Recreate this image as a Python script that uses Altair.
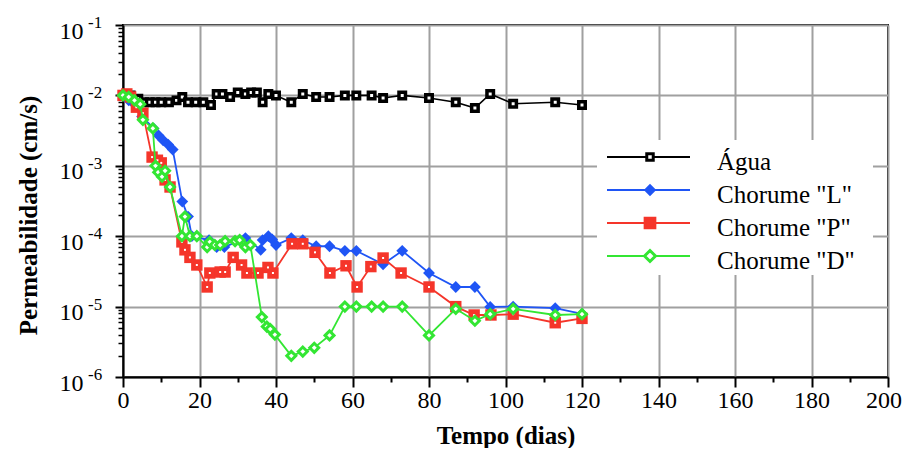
import altair as alt
import pandas as pd

FONT = "Liberation Serif"

# ---------------- data ----------------
agua_days = [0, 2, 4, 5.5, 7, 8.5, 10, 12, 14, 15.5,
             17, 19, 21, 23, 24.5, 26, 28, 30, 32, 33.5,
             35, 36.5, 38, 40, 44, 47, 50.5, 54, 58, 61,
             65, 68, 73, 80, 87, 92, 96, 102, 113, 120]
agua_vals = [1.0e-2, 1.0e-2, 9.0e-3, 8.0e-3, 8.0e-3, 8.0e-3, 8.0e-3, 8.0e-3, 8.5e-3, 9.5e-3,
             8.0e-3, 8.0e-3, 8.0e-3, 7.3e-3, 1.05e-2, 1.05e-2, 9.5e-3, 1.1e-2, 1.05e-2, 1.1e-2,
             1.1e-2, 8.0e-3, 1.05e-2, 1.0e-2, 8.0e-3, 1.05e-2, 9.5e-3, 9.5e-3, 1.0e-2, 1.0e-2,
             1.0e-2, 9.2e-3, 1.0e-2, 9.2e-3, 8.0e-3, 6.6e-3, 1.05e-2, 7.6e-3, 8.0e-3, 7.3e-3]

l_days = [0, 1.5, 3, 5, 8, 9.3, 10.5, 11.8, 13, 15.5,
          17, 18, 22.5, 24.5, 26.5, 32, 36, 36.5, 38, 39,
          40, 44, 47, 50.5, 54, 58, 61, 68, 73, 80,
          87, 92, 96, 102, 113, 120]
l_vals = [1.0e-2, 8.5e-3, 7.5e-3, 5.0e-3, 3.4e-3, 2.7e-3, 2.3e-3, 2.0e-3, 1.7e-3, 3.1e-4,
          1.9e-4, 1.0e-4, 8.8e-5, 7.0e-5, 7.0e-5, 9.4e-5, 6.4e-5, 8.8e-5, 1.0e-4, 9.0e-5,
          7.5e-5, 9.4e-5, 8.8e-5, 7.2e-5, 7.2e-5, 6.2e-5, 6.2e-5, 4.0e-5, 6.2e-5, 3.0e-5,
          1.9e-5, 1.9e-5, 9.9e-6, 1.0e-5, 9.5e-6, 7.9e-6]

p_days = [0, 1, 2, 3.5, 5.2, 7.6, 9, 10, 11, 12.3,
          15.4, 16.2, 17.5, 19.3, 22, 22.7, 25.4, 26.7, 28.8, 31,
          32.4, 35.3, 37.9, 39.2, 44.2, 47, 50.2, 54.1, 58.3, 61.2,
          64.8, 68, 72.7, 80, 87, 91.8, 96.2, 102, 113, 120]
p_vals = [1.0e-2, 1.05e-2, 9.5e-3, 6.8e-3, 5.6e-3, 1.33e-3, 1.2e-3, 1.1e-3, 6.3e-4, 5.0e-4,
          8.3e-5, 6.4e-5, 5.0e-5, 3.9e-5, 1.9e-5, 3.0e-5, 3.1e-5, 3.1e-5, 5.0e-5, 3.9e-5,
          3.0e-5, 3.0e-5, 3.6e-5, 3.0e-5, 7.8e-5, 7.8e-5, 5.9e-5, 3.0e-5, 3.8e-5, 1.9e-5,
          3.7e-5, 4.9e-5, 3.0e-5, 1.9e-5, 1.0e-5, 7.6e-6, 7.6e-6, 7.8e-6, 5.9e-6, 6.8e-6]

d_days = [0, 1.5, 3, 4.5, 5.2, 7.8, 8.5, 9.2, 10.2, 11,
          12.3, 15.4, 16.2, 17.5, 19.3, 22, 22.7, 24, 25.4, 26.7,
          29.3, 30.5, 32, 33.3, 36.3, 37.6, 38.5, 39.7, 44, 47,
          50, 54, 58, 61, 65, 68, 73, 80, 87, 92,
          96, 102, 113, 120]
d_vals = [1.0e-2, 9.5e-3, 8.5e-3, 7.5e-3, 4.5e-3, 3.4e-3, 1.0e-3, 8.1e-4, 7.0e-4, 8.5e-4,
          5.0e-4, 1.0e-4, 1.9e-4, 1.0e-4, 1.0e-4, 7.0e-5, 8.3e-5, 7.5e-5, 7.5e-5, 8.5e-5,
          8.5e-5, 8.8e-5, 7.0e-5, 7.5e-5, 7.1e-6, 5.2e-6, 4.8e-6, 4.0e-6, 2.0e-6, 2.3e-6,
          2.6e-6, 3.9e-6, 1.0e-5, 1.0e-5, 1.0e-5, 1.0e-5, 1.0e-5, 3.9e-6, 9.3e-6, 6.3e-6,
          7.8e-6, 9.3e-6, 7.6e-6, 7.8e-6]

series_names = ["Água", 'Chorume "L"', 'Chorume "P"', 'Chorume "D"']
x_major = list(range(0, 201, 20))
x_last = [200]
x_minor = list(range(10, 200, 20))
y_exps = [-6, -5, -4, -3, -2, -1]
y_major = [10.0 ** e for e in y_exps]
y_exp_labels = [str(e) for e in y_exps]
y_minor = [m * 10.0 ** e for e in range(-6, -1) for m in range(2, 10)]

# ---------------- styling ----------------
BLACK = "#000000"
BLUE = "#1f55f5"
RED = "#f5352a"
GREEN = "#33e633"
GRID = "#a0a0a0"

XS = alt.Scale(domain=[0, 200], nice=False, zero=False)
YS = alt.Scale(type="log", domain=[1e-6, 1e-1], nice=False)


def xenc(field="t", axis=None):
    return alt.X(f"{field}:Q", scale=XS, axis=axis)


def yenc(field="k", axis=None):
    return alt.Y(f"{field}:Q", scale=YS, axis=axis)


def series(days, vals, color, shape, size, open_marker, line_w=1.8, sw=3):
    df = pd.DataFrame({"t": days, "k": vals})
    base = alt.Chart(df)
    line = base.mark_line(color=color, strokeWidth=line_w).encode(x=xenc(), y=yenc())
    if open_marker:
        pts = base.mark_point(shape=shape, size=size, filled=True, fill="white",
                              stroke=color, strokeWidth=sw, opacity=1).encode(x=xenc(), y=yenc())
    else:
        pts = base.mark_point(shape=shape, size=size, filled=True, color=color,
                              opacity=1).encode(x=xenc(), y=yenc())
    return [line, pts]


layers = []
layers += series(agua_days, agua_vals, BLACK, "square", 42, True, 1.6, 3.5)
layers += series(l_days, l_vals, BLUE, "diamond", 140, False)
layers += series(p_days, p_vals, RED, "square", 130, False)
layers.append(
    alt.Chart(pd.DataFrame({"t": p_days, "k": p_vals}))
    .mark_point(shape="square", size=4, filled=True, color="white", opacity=1)
    .encode(x=xenc(), y=yenc())
)
layers += series(d_days, d_vals, GREEN, "diamond", 80, True)

# ---------------- axes ----------------
x_major_layer = alt.Chart(pd.DataFrame({"v": x_major})).mark_point(opacity=0).encode(
    x=xenc("v", alt.Axis(values=x_major, grid=True, gridColor=GRID, gridWidth=2,
                         tickSize=10, tickWidth=2, tickColor=BLACK,
                         domainColor=BLACK, domainWidth=2,
                         labelExpr="datum.value == 200 ? '' : datum.label",
                         labelFont=FONT, labelFontSize=24, labelColor=BLACK,
                         labelPadding=1, labelFlush=False, labelOverlap=False,
                         title="Tempo (dias)", titleFont=FONT, titleFontSize=25,
                         titleFontWeight="bold", titleColor=BLACK,
                         titleY=58, titleBaseline="middle", orient="bottom"))
)
x_minor_layer = alt.Chart(pd.DataFrame({"v": x_minor})).mark_point(opacity=0).encode(
    x=xenc("v", alt.Axis(values=x_minor, grid=False, labels=False, domain=False,
                         tickSize=5, tickWidth=2, tickColor=BLACK, title="",
                         orient="bottom"))
)
# last x label, kept inside the canvas edge
x_last_layer = alt.Chart(pd.DataFrame({"v": x_last, "s": [str(v) for v in x_last]})).mark_text(
    font=FONT, fontSize=24, align="right", baseline="top", dx=14, color=BLACK
).encode(x=xenc("v"), y=alt.value(352 + 11 + 1), text="s:N")

y_major_layer = alt.Chart(pd.DataFrame({"v": y_major})).mark_point(opacity=0).encode(
    y=yenc("v", alt.Axis(values=y_major, labelExpr="'10'", grid=True, gridColor=GRID,
                         gridWidth=2, tickSize=8, tickWidth=2, tickColor=BLACK,
                         domainColor=BLACK, domainWidth=2,
                         labelFont=FONT, labelFontSize=24, labelColor=BLACK,
                         labelPadding=32, labelAlign="right", labelBaseline="middle",
                         labelOffset=6, labelFlush=False, labelOverlap=False,
                         title="Permeabilidade (cm/s)", titleFont=FONT, titleFontSize=25,
                         titleFontWeight="bold", titleColor=BLACK,
                         titleX=-95, titleY=190, titleAngle=270, titleAlign="center",
                         titleBaseline="middle", orient="left"))
)
y_minor_layer = alt.Chart(pd.DataFrame({"v": y_minor})).mark_point(opacity=0).encode(
    y=yenc("v", alt.Axis(values=y_minor, grid=False, labels=False, domain=False,
                         tickSize=5, tickWidth=1.5, tickColor=BLACK, title="",
                         orient="left"))
)
exp_layer = alt.Chart(pd.DataFrame({"v": y_major, "e": y_exp_labels})).mark_text(
    font=FONT, fontSize=17, align="left", baseline="middle", dy=-2, color=BLACK
).encode(x=alt.value(-35), y=yenc("v"), text="e:N")

# ---------------- legend ----------------
leg_df = pd.DataFrame({"name": series_names})
leg_y = alt.Y("name:N", scale=alt.Scale(type="point", domain=series_names,
                                         range=[132, 231], padding=0), axis=None)
col_scale = alt.Scale(domain=series_names, range=[BLACK, BLUE, RED, GREEN])
leg_box = alt.Chart(leg_df).mark_rect(fill="white").encode(
    x=alt.value(474), x2=alt.value(750), y=alt.value(115), y2=alt.value(250)
)
leg_rule = alt.Chart(leg_df).mark_rule(strokeWidth=2).encode(
    x=alt.value(484), x2=alt.value(567), y=leg_y,
    color=alt.Color("name:N", scale=col_scale, legend=None)
)
leg_pts = alt.Chart(leg_df).mark_point(filled=True, opacity=1, strokeWidth=3).encode(
    x=alt.value(527), y=leg_y,
    shape=alt.Shape("name:N", scale=alt.Scale(domain=series_names,
                                               range=["square", "diamond", "square", "diamond"]),
                    legend=None),
    fill=alt.Fill("name:N", scale=alt.Scale(domain=series_names,
                                             range=["white", BLUE, RED, "white"]), legend=None),
    stroke=alt.Stroke("name:N", scale=alt.Scale(domain=series_names,
                                                 range=[BLACK, BLUE, RED, GREEN]), legend=None),
    size=alt.Size("name:N", scale=alt.Scale(domain=series_names, range=[42, 120, 110, 70]),
                  legend=None),
)
leg_txt = alt.Chart(leg_df).mark_text(font=FONT, fontSize=25, align="left",
                                      baseline="middle", dy=5, color=BLACK).encode(
    x=alt.value(594), y=leg_y, text="name:N"
)

chart = alt.layer(
    x_major_layer, x_minor_layer, y_major_layer, y_minor_layer,
    *layers, exp_layer, x_last_layer, leg_box, leg_rule, leg_pts, leg_txt
).resolve_scale(y="independent").resolve_axis(x="independent", y="independent").properties(
    width=765, height=352,
    autosize=alt.AutoSizeParams(type="none"),
    padding={"left": 115, "top": 17, "right": 14, "bottom": 71},
).configure_view(stroke=BLACK, strokeWidth=2)

chart.save("out.html", embed_options={"renderer": "svg", "actions": False})
